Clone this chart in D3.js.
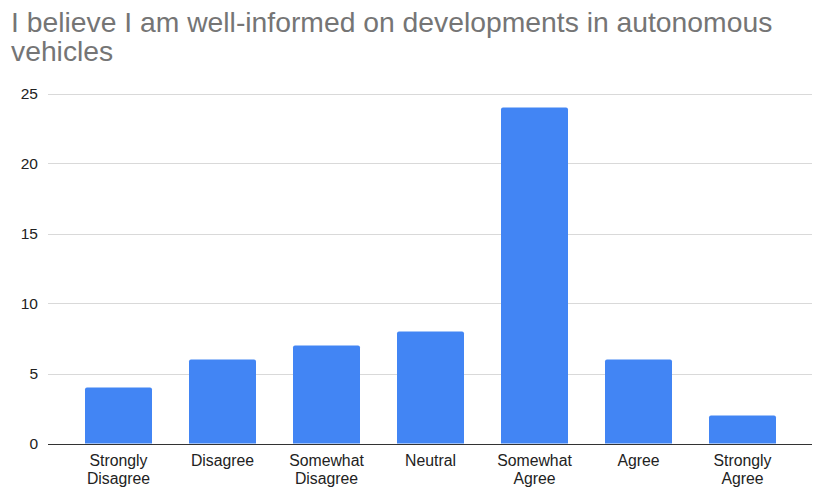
<!DOCTYPE html>
<html>
<head>
<meta charset="utf-8">
<script src="https://cdn.jsdelivr.net/npm/d3@7"></script>
<style>
  html, body { margin: 0; padding: 0; background: #fff; }
  svg { display: block; }
</style>
</head>
<body>
<svg id="chart" width="813" height="487"></svg>
<script>
// Survey responses per answer option
const categories = ["Strongly Disagree", "Disagree", "Somewhat Disagree", "Neutral", "Somewhat Agree", "Agree", "Strongly Agree"];
const counts = [4, 6, 7, 8, 24, 6, 2];
const yTicks = [0, 5, 10, 15, 20, 25];
const titleLines = ["I believe I am well-informed on developments in autonomous", "vehicles"];

const svg = d3.select("#chart");
const font = "Arial, 'Liberation Sans', sans-serif";

// Title
svg.append("text")
  .attr("font-family", font).attr("font-size", 28.3).attr("fill", "#757575")
  .selectAll("tspan").data(titleLines).join("tspan")
  .attr("x", 11).attr("y", (d, i) => 32 + i * 29)
  .text(d => d);

const gridLeft = 48, gridRight = 812;
const y = d3.scaleLinear().domain([0, 25]).range([443.5, 93.5]);
const x = d3.scaleBand().domain(categories).range([66.5, 794.5])
  .paddingInner(0.3558).paddingOuter(0.1779);

// Gridlines
svg.append("g").selectAll("line").data(yTicks.filter(t => t !== 0)).join("line")
  .attr("x1", gridLeft).attr("x2", gridRight)
  .attr("y1", d => Math.round(y(d)) + 0.5).attr("y2", d => Math.round(y(d)) + 0.5)
  .attr("stroke", "#d9d9d9").attr("stroke-width", 1);

// Y tick labels
svg.append("g").selectAll("text").data(yTicks).join("text")
  .attr("x", 38).attr("y", d => y(d)).attr("dy", "0.36em")
  .attr("text-anchor", "end")
  .attr("font-family", font).attr("font-size", 15.5).attr("fill", "#222")
  .text(d => d);

// Bars with lightly rounded tops
const r = 2;
svg.append("g").selectAll("path").data(categories).join("path")
  .attr("fill", "#4285f4")
  .attr("d", (c, i) => {
    const x0 = x(c), w = x.bandwidth(), y0 = y(0), y1 = y(counts[i]);
    return `M${x0},${y0}V${y1 + r}Q${x0},${y1} ${x0 + r},${y1}H${x0 + w - r}Q${x0 + w},${y1} ${x0 + w},${y1 + r}V${y0}Z`;
  });

// Baseline
svg.append("line")
  .attr("x1", gridLeft).attr("x2", gridRight)
  .attr("y1", Math.round(y(0)) + 0.5).attr("y2", Math.round(y(0)) + 0.5)
  .attr("stroke", "#333").attr("stroke-width", 1);

// X category labels, wrapped onto two lines where needed
svg.append("g").selectAll("text").data(categories).join("text")
  .attr("text-anchor", "middle")
  .attr("font-family", font).attr("font-size", 15.8).attr("fill", "#222")
  .each(function (c) {
    const words = c.split(" ");
    const t = d3.select(this);
    words.forEach((w, i) => {
      t.append("tspan").attr("x", x(c) + x.bandwidth() / 2)
        .attr("y", 466 + i * 17.5).text(w);
    });
  });
</script>
</body>
</html>
